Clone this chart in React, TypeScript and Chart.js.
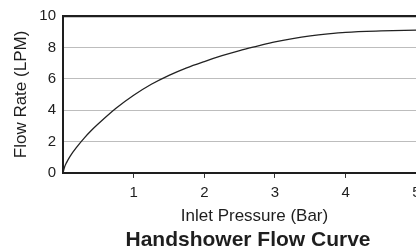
import React, { useEffect, useRef } from "react";
import { Chart, registerables } from "chart.js";

Chart.register(...registerables);

const pressureBar = [0, 0.02, 0.05, 0.1, 0.2, 0.3, 0.4, 0.5, 0.75, 1, 1.25, 1.5, 1.75, 2, 2.25, 2.5, 2.75, 3, 3.25, 3.5, 3.75, 4, 4.5, 5, 5.5];
const flowLpm = [0, 0.35, 0.66, 1.06, 1.68, 2.22, 2.7, 3.13, 4.12, 4.95, 5.65, 6.22, 6.7, 7.1, 7.47, 7.8, 8.08, 8.35, 8.56, 8.73, 8.86, 8.96, 9.05, 9.1, 9.13];
const xTickValues = [1, 2, 3, 4, 5];
const yTickValues = [0, 2, 4, 6, 8, 10];

const TEXT = "#1e1e1e";
const FONT = "'Liberation Sans', Arial, Helvetica, sans-serif";

export default function App() {
  const ref = useRef<HTMLCanvasElement | null>(null);

  useEffect(() => {
    const canvas = ref.current;
    if (!canvas) return;
    const chart = new Chart(canvas, {
      type: "line",
      data: {
        datasets: [
          {
            data: pressureBar.map((x, i) => ({ x, y: flowLpm[i] })),
            borderColor: "#222",
            borderWidth: 1.3,
            pointRadius: 0,
            fill: false,
            cubicInterpolationMode: "monotone",
          },
        ],
      },
      options: {
        animation: false,
        responsive: false,
        devicePixelRatio: 1,
        layout: { padding: { top: 16, left: 0, right: 0, bottom: 0 } },
        plugins: {
          legend: { display: false },
          tooltip: { enabled: false },
          title: {
            display: true,
            position: "bottom",
            text: "Handshower Flow Curve",
            color: TEXT,
            font: { family: FONT, size: 21, weight: "bold", lineHeight: 1.05 },
            padding: { top: 0, bottom: 0 },
          },
        },
        scales: {
          x: {
            type: "linear",
            min: 0,
            max: 5.42,
            afterFit: (s: any) => {
              s.height = 56;
            },
            afterBuildTicks: (s: any) => {
              s.ticks = [0, ...xTickValues].map((v) => ({ value: v }));
            },
            border: { display: true, color: "#1e1e1e", width: 2 },
            grid: {
              drawOnChartArea: false,
              drawTicks: true,
              tickLength: 5,
              tickColor: (ctx: any) => (ctx.tick && ctx.tick.value === 0 ? "rgba(0,0,0,0)" : "#333"),
              tickWidth: 1,
            },
            ticks: {
              color: TEXT,
              padding: 6,
              maxRotation: 0,
              font: { family: FONT, size: 15 },
              callback: (v: any) => (v === 0 ? "" : String(v)),
            },
            title: {
              display: true,
              text: "Inlet Pressure (Bar)",
              color: TEXT,
              font: { family: FONT, size: 17 },
              padding: { top: 0, bottom: 2 },
            },
          },
          y: {
            type: "linear",
            min: 0,
            max: 10,
            afterFit: (s: any) => {
              s.width = 63;
            },
            afterBuildTicks: (s: any) => {
              s.ticks = yTickValues.map((v) => ({ value: v }));
            },
            border: { display: true, color: "#1e1e1e", width: 2 },
            grid: {
              drawTicks: false,
              color: (ctx: any) => (ctx.tick && ctx.tick.value === 10 ? "#1e1e1e" : "#bdbdbd"),
              lineWidth: (ctx: any) => (ctx.tick && ctx.tick.value === 10 ? 2.2 : 1),
            },
            ticks: {
              color: TEXT,
              padding: 7,
              font: { family: FONT, size: 15 },
            },
            title: {
              display: true,
              text: "Flow Rate (LPM)",
              color: TEXT,
              font: { family: FONT, size: 17 },
              padding: { top: 11, bottom: 0 },
            },
          },
          spacer: {
            type: "linear",
            position: "right",
            display: true,
            afterFit: (s: any) => {
              s.width = 50;
            },
            grid: { display: false },
            border: { display: false },
            ticks: { display: false },
          },
        },
      } as any,
    });
    return () => chart.destroy();
  }, []);

  return (
    <div
      style={{
        position: "fixed",
        left: 0,
        top: 0,
        width: 416,
        height: 251,
        overflow: "hidden",
        background: "#fff",
      }}
    >
      <canvas ref={ref} width={496} height={251} style={{ width: 496, height: 251, display: "block" }} />
    </div>
  );
}
